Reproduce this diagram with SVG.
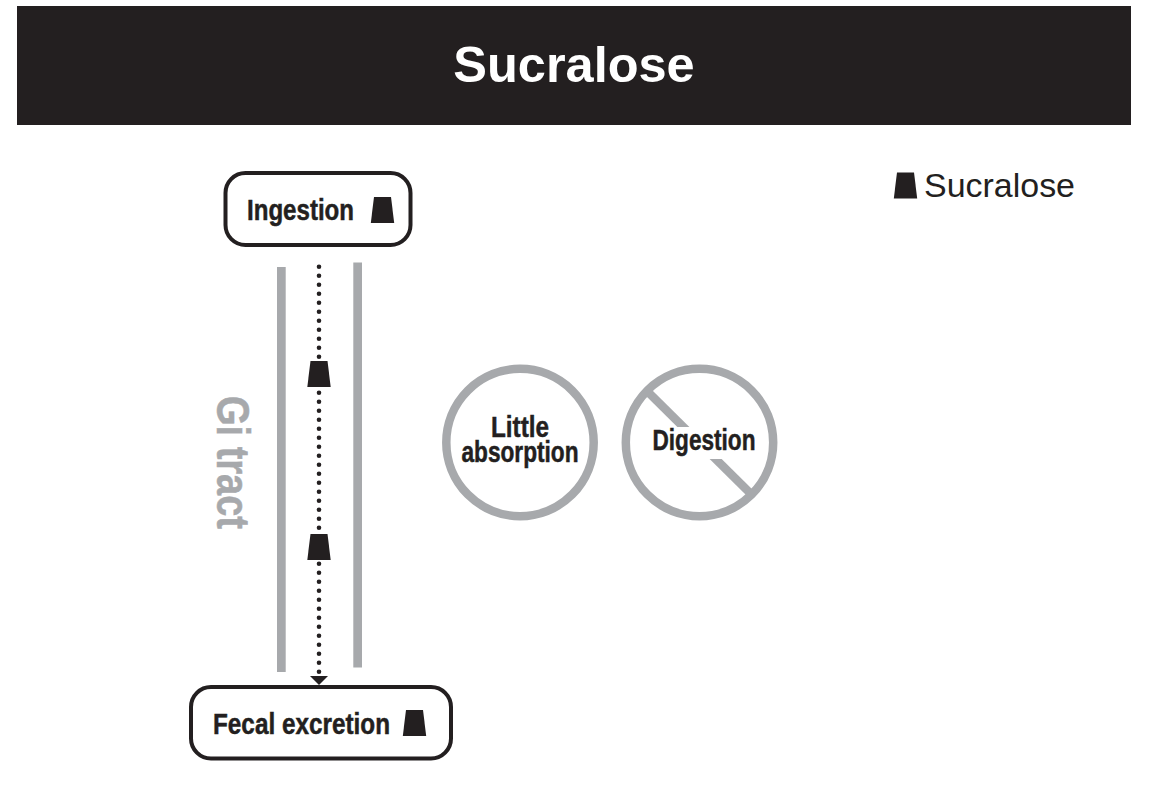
<svg xmlns="http://www.w3.org/2000/svg" width="1152" height="802" viewBox="0 0 1152 802">
<defs>
<style>
text{font-family:"Liberation Sans",Arial,sans-serif;fill:#231f20}
.lbl{font-weight:bold;font-size:29px;stroke:#231f20;stroke-width:.5}
.box{fill:#fff;stroke:#231f20;stroke-width:4}
.rail{fill:#a7a9ac}
.ring{fill:#fff;stroke:#a7a9ac;stroke-width:8.5}
</style>
<polygon id="trap" points="-8.500,-13 8.500,-13 11.700,13 -11.700,13" fill="#231f20"/>
<marker id="head" markerUnits="userSpaceOnUse" markerWidth="18" markerHeight="9" refX="9" refY="0" orient="0" viewBox="0 0 18 9"><polygon points="0,0 18,0 9,9" fill="#231f20"/></marker>
</defs>
<rect width="1152" height="802" fill="#fff"/>
<g id="title"><rect x="17" y="6" width="1114" height="119" fill="#231f20"/>
<text x="574" y="82" text-anchor="middle" font-size="50.500" font-weight="bold" style="fill:#fff">Sucralose</text></g>
<g id="legend"><use href="#trap" transform="translate(905.500,185.500)"/><text x="924" y="197" font-size="33" textLength="151" lengthAdjust="spacingAndGlyphs">Sucralose</text></g>
<g id="gi-tract"><rect class="rail" x="277" y="267" width="8.7" height="405"/><rect class="rail" x="353.3" y="262.5" width="8.7" height="405"/>
<text class="lbl" transform="translate(217,396) rotate(90)" textLength="133" lengthAdjust="spacingAndGlyphs" style="fill:#a7a9ac;stroke:#a7a9ac;font-size:46px">Gi tract</text></g>
<g id="connectors"><line x1="319" y1="266.7" x2="319" y2="676" stroke="#231f20" stroke-width="4.600" stroke-linecap="round" stroke-dasharray="0 9" marker-end="url(#head)"/></g>
<g id="particles"><use href="#trap" transform="translate(319,374)"/><use href="#trap" transform="translate(319,547)"/></g>
<g id="ingestion"><rect class="box" x="225.5" y="173" width="185" height="72" rx="20"/><text class="lbl" x="247" y="220" textLength="107" lengthAdjust="spacingAndGlyphs">Ingestion</text><use href="#trap" transform="translate(382.500,210)"/></g>
<g id="fecal-excretion"><rect class="box" x="191" y="687" width="260" height="71.500" rx="20"/><text class="lbl" x="213" y="734" textLength="177" lengthAdjust="spacingAndGlyphs">Fecal excretion</text><use href="#trap" transform="translate(414.500,723)"/></g>
<g id="little-absorption"><circle class="ring" cx="520" cy="442.500" r="73.700"/><text class="lbl" x="520" y="437" text-anchor="middle" textLength="58" lengthAdjust="spacingAndGlyphs">Little</text><text class="lbl" x="520" y="462" text-anchor="middle" textLength="117" lengthAdjust="spacingAndGlyphs">absorption</text></g>
<g id="digestion"><circle class="ring" cx="699.500" cy="442.500" r="73.700"/><line x1="648" y1="392" x2="750" y2="493" stroke="#a7a9ac" stroke-width="8.500"/><rect x="650" y="427" width="108" height="32" fill="#fff"/><text class="lbl" x="704" y="450" text-anchor="middle" textLength="103" lengthAdjust="spacingAndGlyphs">Digestion</text></g>
</svg>
